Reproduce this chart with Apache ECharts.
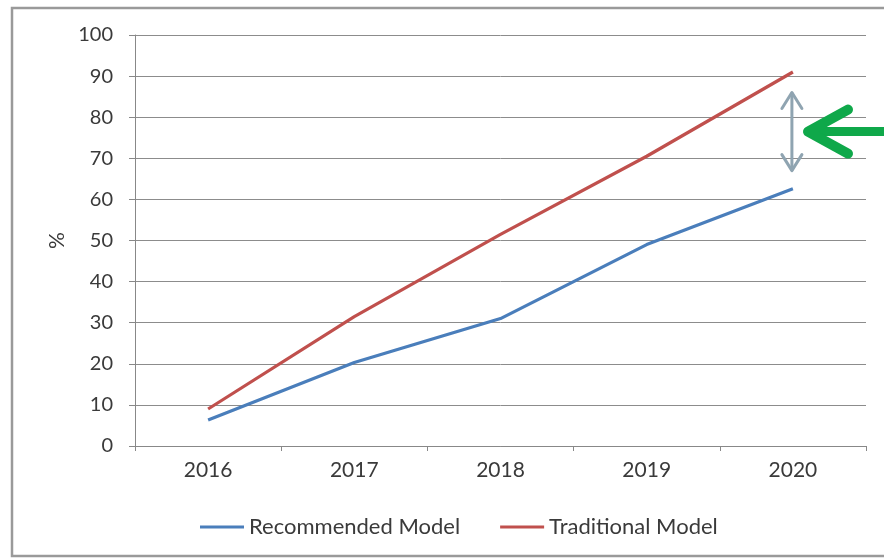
<!DOCTYPE html>
<html><head><meta charset="utf-8">
<script src="https://cdn.jsdelivr.net/npm/echarts@6/dist/echarts.min.js"></script>
<style>html,body{margin:0;padding:0;background:#fff}#c{width:884px;height:559px}</style>
</head><body><div id="c"></div>
<script>
var years = ['2016', '2017', '2018', '2019', '2020'];
var recommended = [6.3, 20.3, 31.0, 49.0, 62.6];
var traditional = [9.0, 31.5, 51.5, 70.5, 91.0];
var yTicks = [0, 10, 20, 30, 40, 50, 60, 70, 80, 90, 100];
var gapTop = 86, gapBottom = 67;

var chart = echarts.init(document.getElementById('c'));
var font = 'Lato, "Open Sans", sans-serif';
chart.setOption({
  animation: false,
  backgroundColor: '#fff',
  grid: { left: 135, right: 18, top: 35, bottom: 113 },
  legend: {
    top: 511, left: 195, itemGap: 40, itemWidth: 44, itemHeight: 3,
    icon: 'rect',
    textStyle: { fontFamily: font, fontSize: 22, color: '#3a3a3a' },
    data: ['Recommended Model', 'Traditional Model']
  },
  xAxis: {
    type: 'category', data: years, boundaryGap: true,
    axisLine: { lineStyle: { color: '#888', width: 1 } },
    axisTick: { show: true, length: 5, lineStyle: { color: '#888' } },
    axisLabel: { fontFamily: font, fontSize: 21, color: '#3a3a3a', margin: 14 }
  },
  yAxis: {
    type: 'value', min: yTicks[0], max: yTicks[yTicks.length - 1], interval: 10,
    name: '%', nameLocation: 'middle', nameGap: 66, nameRotate: 90,
    nameTextStyle: { fontFamily: font, fontSize: 21, color: '#3a3a3a' },
    axisLine: { show: true, lineStyle: { color: '#888', width: 1 } },
    axisTick: { show: true, length: 6, lineStyle: { color: '#888' } },
    axisLabel: { fontFamily: font, fontSize: 20, color: '#3a3a3a', margin: 22 },
    splitLine: { lineStyle: { color: '#8c8c8c', width: 1 } }
  },
  series: [
    { name: 'Recommended Model', type: 'line', data: recommended, symbol: 'none',
      lineStyle: { color: '#4a7ebb', width: 3.2 }, itemStyle: { color: '#4a7ebb' } },
    { name: 'Traditional Model', type: 'line', data: traditional, symbol: 'none',
      lineStyle: { color: '#c0504d', width: 3.2 }, itemStyle: { color: '#c0504d' } }
  ]
});

var pTop = chart.convertToPixel({ seriesIndex: 0 }, ['2020', gapTop]);
var pBot = chart.convertToPixel({ seriesIndex: 0 }, ['2020', gapBottom]);
var ax = pTop[0] - 1, ay1 = pTop[1], ay2 = pBot[1];
var gCol = '#8fa4b1';
var gx = 808, gy = (ay1 + ay2) / 2;
chart.setOption({
  graphic: [
    { type: 'rect', shape: { x: 12, y: 8, width: 900, height: 548 }, style: { fill: 'none', stroke: '#9a9a9a', lineWidth: 2.5 }, z: 100 },
    { type: 'line', shape: { x1: ax, y1: ay1, x2: ax, y2: ay2 }, style: { stroke: gCol, lineWidth: 3 }, z: 100 },
    { type: 'polyline', shape: { points: [[ax - 10, ay1 + 16], [ax, ay1], [ax + 10, ay1 + 16]] }, style: { stroke: gCol, lineWidth: 3, fill: 'none', lineCap: 'round', lineJoin: 'round' }, z: 100 },
    { type: 'polyline', shape: { points: [[ax - 10, ay2 - 16], [ax, ay2], [ax + 10, ay2 - 16]] }, style: { stroke: gCol, lineWidth: 3, fill: 'none', lineCap: 'round', lineJoin: 'round' }, z: 100 },
    { type: 'line', shape: { x1: gx + 4, y1: gy, x2: 890, y2: gy }, style: { stroke: '#0fa84a', lineWidth: 9 }, z: 100 },
    { type: 'polyline', shape: { points: [[gx + 40, gy - 22], [gx, gy], [gx + 40, gy + 22]] }, style: { stroke: '#0fa84a', lineWidth: 10, fill: 'none', lineCap: 'round', lineJoin: 'round' }, z: 100 }
  ]
});
</script></body></html>
